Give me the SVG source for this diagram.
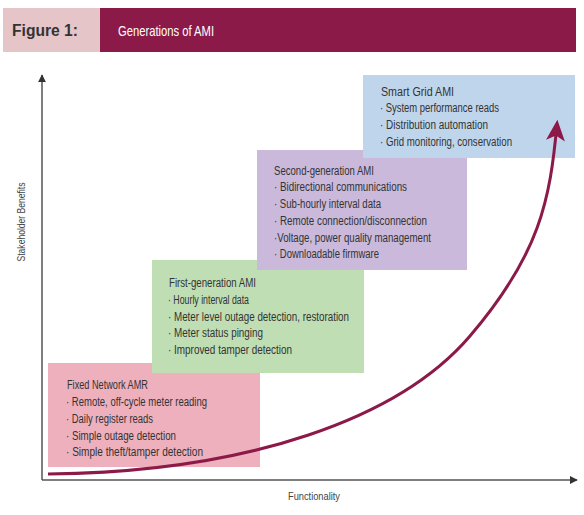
<svg xmlns="http://www.w3.org/2000/svg" width="584" height="515" viewBox="0 0 584 515">
<defs>
<style>
.t{font-family:"Liberation Sans",Arial,sans-serif;font-size:12.5px;fill:#333}
.ax{stroke:#555;stroke-width:1.5;fill:none}
.lbl{font-family:"Liberation Sans",Arial,sans-serif;font-size:11px;fill:#444}
</style>
<marker id="ah" viewBox="0 0 10 10" refX="9" refY="5" markerWidth="8" markerHeight="8" markerUnits="userSpaceOnUse" orient="auto"><path d="M0,0 L10,5 L0,10 z" fill="#333"/></marker>
<marker id="ch" viewBox="0 0 10 10" refX="8" refY="5" markerWidth="7" markerHeight="7" orient="auto"><path d="M0,0.5 L10,5 L0,9.5 L2.5,5 z" fill="#8c1a48"/></marker>
</defs>
<rect width="584" height="515" fill="#fff"/>
<g id="header">
<rect x="3" y="8" width="97" height="44" fill="#e6c5c9"/>
<rect x="100" y="8" width="476" height="44" fill="#8c1a48"/>
<text x="12" y="36" style="font-family:'Liberation Sans',Arial,sans-serif;font-size:16px;font-weight:bold;fill:#333" textLength="66" lengthAdjust="spacingAndGlyphs">Figure 1:</text>
<text x="118" y="36" style="font-family:'Liberation Sans',Arial,sans-serif;font-size:15px;fill:#fff" textLength="96" lengthAdjust="spacingAndGlyphs">Generations of AMI</text>
</g>
<g id="axes">
<line class="ax" x1="42" y1="480" x2="42" y2="75" marker-end="url(#ah)"/>
<line class="ax" x1="42" y1="480" x2="577" y2="480" marker-end="url(#ah)"/>
<text class="lbl" transform="translate(25,222) rotate(-90)" text-anchor="middle" textLength="79" lengthAdjust="spacingAndGlyphs">Stakeholder Benefits</text>
<text class="lbl" x="288" y="500" textLength="52" lengthAdjust="spacingAndGlyphs">Functionality</text>
</g>
<g id="fixed-network-amr">
<rect x="48" y="363" width="212" height="104" fill="#edb0bc"/>
<text class="t" x="67" y="389" textLength="81" lengthAdjust="spacingAndGlyphs">Fixed Network AMR</text>
<text class="t" x="66" y="406" textLength="141" lengthAdjust="spacingAndGlyphs">· Remote, off-cycle meter reading</text>
<text class="t" x="66" y="423" textLength="87" lengthAdjust="spacingAndGlyphs">· Daily register reads</text>
<text class="t" x="66" y="440" textLength="110" lengthAdjust="spacingAndGlyphs">· Simple outage detection</text>
<text class="t" x="66" y="456" textLength="137" lengthAdjust="spacingAndGlyphs">· Simple theft/tamper detection</text>
</g>
<g id="first-generation-ami">
<rect x="152" y="260" width="212" height="113" fill="#bfdeb3"/>
<text class="t" x="169" y="287" textLength="87" lengthAdjust="spacingAndGlyphs">First-generation AMI</text>
<text class="t" x="168" y="304" textLength="81" lengthAdjust="spacingAndGlyphs">· Hourly interval data</text>
<text class="t" x="168" y="321" textLength="181" lengthAdjust="spacingAndGlyphs">· Meter level outage detection, restoration</text>
<text class="t" x="168" y="337" textLength="95" lengthAdjust="spacingAndGlyphs">· Meter status pinging</text>
<text class="t" x="168" y="354" textLength="124" lengthAdjust="spacingAndGlyphs">· Improved tamper detection</text>
</g>
<g id="second-generation-ami">
<rect x="257" y="150" width="210" height="120" fill="#cab9da"/>
<text class="t" x="274" y="175" textLength="100" lengthAdjust="spacingAndGlyphs">Second-generation AMI</text>
<text class="t" x="274" y="191" textLength="133" lengthAdjust="spacingAndGlyphs">· Bidirectional communications</text>
<text class="t" x="274" y="208" textLength="107" lengthAdjust="spacingAndGlyphs">· Sub-hourly interval data</text>
<text class="t" x="274" y="225" textLength="153" lengthAdjust="spacingAndGlyphs">· Remote connection/disconnection</text>
<text class="t" x="274" y="242" textLength="157" lengthAdjust="spacingAndGlyphs">·Voltage, power quality management</text>
<text class="t" x="274" y="258" textLength="105" lengthAdjust="spacingAndGlyphs">· Downloadable firmware</text>
</g>
<g id="smart-grid-ami">
<rect x="363" y="75" width="212" height="83" fill="#bfd5eb"/>
<text class="t" x="381" y="96" textLength="73" lengthAdjust="spacingAndGlyphs">Smart Grid AMI</text>
<text class="t" x="380" y="112" textLength="119" lengthAdjust="spacingAndGlyphs">· System performance reads</text>
<text class="t" x="380" y="129" textLength="108" lengthAdjust="spacingAndGlyphs">· Distribution automation</text>
<text class="t" x="380" y="146" textLength="132" lengthAdjust="spacingAndGlyphs">· Grid monitoring, conservation</text>
</g>
<g id="connectors">
<path d="M48,474 C250,472 400,418 470,336 S550,200 557,124" fill="none" stroke="#8c1a48" stroke-width="3" marker-end="url(#ch)"/>
</g>
</svg>
